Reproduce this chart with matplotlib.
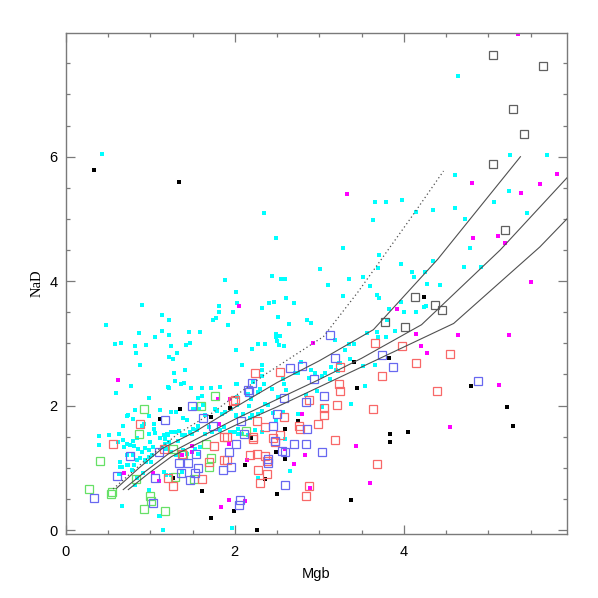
import matplotlib
matplotlib.use("Agg")
import matplotlib.pyplot as plt
from matplotlib.ticker import MultipleLocator

# small filled points (cyan sample)
cyan = [
    (0.88, 2.66), (1.22, 2.78), (1.27, 2.75), (1.28, 2.53), (1.41, 2.58), (1.29, 2.40), (1.36, 2.34),
    (0.77, 2.32), (0.60, 2.21), (1.22, 2.29), (1.48, 2.28), (1.61, 2.28), (1.72, 2.29), (0.99, 2.12),
    (1.57, 2.13), (1.61, 2.16), (1.50, 1.95), (1.54, 1.95), (1.58, 1.95), (0.82, 1.93), (0.73, 1.83),
    (0.79, 1.78), (0.98, 1.83), (1.12, 1.93), (1.25, 1.89), (1.30, 1.90), (1.39, 1.80), (1.43, 1.77),
    (1.65, 1.85), (1.79, 1.91), (1.85, 1.86), (1.89, 1.90), (1.96, 1.95), (2.03, 2.01), (2.01, 1.85),
    (0.68, 1.67), (0.90, 1.68), (0.93, 1.70), (1.04, 1.63), (0.99, 1.55), (1.06, 1.56), (1.16, 1.52),
    (1.20, 1.55), (1.25, 1.58), (1.34, 1.59), (1.38, 1.52), (1.47, 1.58), (1.50, 1.62), (1.56, 1.67),
    (0.39, 1.51), (0.39, 1.37), (0.51, 1.53), (0.62, 1.41), (0.69, 1.34), (0.81, 1.35), (0.80, 1.43),
    (0.84, 1.48), (0.94, 1.32), (1.00, 1.42), (1.03, 1.34), (1.11, 1.48), (1.17, 1.39), (1.22, 1.41),
    (1.33, 1.43), (1.02, 1.20), (1.01, 1.10), (0.95, 1.10), (0.88, 1.16), (0.79, 1.21), (0.73, 1.20),
    (0.64, 1.10), (0.64, 1.02), (0.63, 0.90), (0.73, 1.05), (0.81, 1.04), (0.84, 0.83), (0.82, 0.73),
    (0.91, 0.91), (1.19, 0.89), (1.56, 1.22), (0.67, 0.39), (1.11, 0.23), (1.15, 0.00), (1.99, 1.57),
    (1.97, 0.04), (1.21, 2.30), (1.40, 2.36), (2.03, 2.35), (1.83, 2.30), (1.62, 2.01), (1.77, 1.94),
    (0.74, 1.85), (1.04, 1.71), (1.18, 1.47), (1.21, 1.53), (1.29, 1.58), (1.41, 1.53), (1.49, 1.55),
    (1.55, 1.61), (1.65, 1.55), (1.69, 1.66), (1.73, 1.58), (1.83, 1.61), (1.87, 1.66), (1.94, 1.58),
    (2.00, 1.58), (2.04, 1.63), (2.08, 1.55), (2.16, 1.53), (2.24, 1.61), (2.32, 1.58), (0.68, 1.45),
    (0.72, 1.39), (0.76, 1.37), (0.86, 1.31), (0.90, 1.26), (0.98, 1.28), (1.14, 1.34), (1.19, 1.31),
    (1.25, 1.26), (1.31, 1.20), (1.39, 1.28), (1.43, 1.23), (1.53, 1.31), (1.59, 1.34), (0.66, 1.02),
    (0.74, 1.04), (0.78, 0.96), (0.84, 1.12), (0.94, 1.12), (0.98, 1.18), (1.16, 0.94), (1.25, 0.88),
    (1.37, 0.94), (0.99, 0.64), (1.10, 0.22), (0.63, 1.54), (2.10, 1.87), (2.20, 1.85),
    (1.88, 4.02), (2.01, 3.83), (2.03, 3.65), (1.98, 3.50), (1.81, 3.60), (1.81, 3.51), (1.78, 3.40),
    (1.74, 3.37), (1.92, 3.30), (0.90, 3.62), (1.14, 3.45), (1.22, 3.38), (0.48, 3.30), (0.87, 3.16),
    (1.06, 3.11), (1.14, 3.20), (1.22, 3.14), (1.46, 3.18), (1.59, 3.19), (0.58, 2.99), (0.65, 3.01),
    (0.82, 2.96), (0.95, 2.98), (1.25, 2.96), (1.42, 2.98), (1.47, 3.01), (0.83, 2.85), (1.32, 2.85),
    (2.01, 2.90), (0.43, 6.04), (2.34, 5.10), (2.49, 4.70), (2.44, 4.09), (2.55, 4.03), (2.60, 4.03),
    (2.61, 3.73), (3.66, 5.27), (3.79, 5.28), (3.98, 5.31), (3.63, 4.99), (3.28, 4.54), (3.71, 4.42),
    (3.97, 4.27), (3.69, 4.21), (3.01, 4.20), (3.35, 4.03), (3.52, 4.06), (3.60, 3.92), (3.10, 3.94),
    (3.28, 3.76), (3.68, 3.78), (3.71, 3.73), (2.46, 3.67), (2.41, 3.65), (2.70, 3.65), (2.32, 3.57),
    (2.51, 3.42), (2.86, 3.37), (2.90, 3.33), (2.64, 3.31), (2.49, 3.15), (2.54, 3.12), (2.49, 3.10),
    (2.50, 3.04), (2.52, 2.97), (2.58, 2.95), (2.28, 2.99), (2.36, 2.99), (2.20, 2.91), (3.82, 3.55),
    (3.97, 3.66), (4.00, 3.51), (3.56, 3.16), (3.68, 3.19), (3.70, 3.10), (3.79, 3.11), (3.89, 3.20),
    (3.35, 2.99), (3.41, 2.99), (3.30, 2.89), (3.18, 3.05), (4.64, 7.29), (5.26, 6.03), (5.69, 6.03),
    (4.61, 5.70), (5.24, 5.45), (5.07, 5.27), (5.46, 5.09), (4.72, 5.00), (4.61, 5.17), (4.35, 5.15),
    (4.15, 5.11), (4.78, 4.53), (4.71, 4.23), (4.91, 4.23), (4.34, 4.32), (4.10, 4.15), (4.12, 4.07),
    (4.25, 4.15), (4.27, 3.95), (4.43, 3.94), (4.14, 3.51), (4.24, 3.58), (4.26, 3.60), (3.80, 3.37),
    (3.24, 2.68), (3.22, 2.56), (2.09, 2.66), (2.32, 2.65), (2.32, 2.57), (2.32, 2.48), (2.02, 2.34),
    (2.21, 2.38), (2.30, 2.27), (2.28, 2.22), (2.35, 2.34), (2.44, 2.27), (2.57, 2.42), (2.58, 2.34),
    (2.61, 2.25), (2.71, 2.53), (2.75, 2.52), (2.78, 2.70), (2.90, 2.57), (2.95, 2.52), (2.88, 2.45),
    (3.03, 2.48), (3.07, 2.52), (3.13, 2.43), (3.14, 2.62), (3.20, 2.57), (3.23, 2.68), (3.36, 2.75),
    (3.52, 2.64), (3.66, 2.66), (3.54, 2.32), (3.37, 2.03), (2.97, 2.23), (2.84, 2.17), (2.51, 2.14),
    (2.16, 2.18), (2.19, 2.11), (2.03, 2.14), (2.36, 2.03), (2.39, 2.01), (2.17, 1.99), (2.28, 1.86),
    (2.32, 1.91), (2.45, 1.88), (2.57, 1.90), (2.49, 1.77), (2.18, 1.80), (2.02, 1.83), (2.75, 1.87),
    (3.03, 1.98), (2.04, 1.55), (2.59, 1.46), (2.28, 0.83), (2.65, 0.95),
]

magenta = [
    (0.62, 2.41), (1.80, 2.11), (1.94, 2.11), (1.81, 1.71), (1.49, 1.35), (1.49, 1.26), (1.38, 1.21),
    (1.03, 0.92), (0.69, 0.91), (1.10, 0.78), (1.93, 1.39), (1.93, 0.48), (1.84, 0.37), (2.05, 3.60),
    (3.33, 5.40), (2.92, 3.00), (3.92, 3.55), (2.80, 1.86), (2.60, 1.30), (2.83, 1.21), (2.70, 1.06),
    (2.15, 1.12), (3.44, 1.35), (3.60, 0.76), (2.89, 0.67), (2.12, 0.46), (4.15, 3.15), (4.20, 2.95),
    (4.27, 2.84), (4.64, 3.14), (5.24, 3.13), (5.13, 2.33), (4.55, 1.66), (5.35, 7.97), (4.81, 5.58),
    (5.39, 5.42), (5.61, 5.56), (5.81, 5.73), (4.82, 4.69), (5.11, 4.72), (5.20, 4.62), (5.50, 3.98),
]

black = [
    (0.33, 5.78), (1.34, 5.59), (1.35, 1.94), (1.12, 1.79), (1.72, 1.82), (1.94, 1.96), (1.27, 0.84),
    (1.61, 0.62), (1.72, 0.20), (1.99, 0.30), (3.41, 2.70), (3.83, 2.77), (3.45, 2.28), (2.75, 1.76),
    (2.59, 1.62), (3.84, 1.54), (4.05, 1.57), (3.84, 1.42), (2.19, 1.48), (2.49, 1.26), (2.60, 1.14),
    (2.12, 1.04), (2.36, 0.82), (2.50, 0.58), (3.38, 0.49), (2.26, 0.00), (4.24, 3.74), (4.79, 2.31),
    (5.22, 1.97), (5.29, 1.68),
]

# open squares
green_open = [
    (1.76, 2.15), (0.92, 1.94), (1.60, 1.99), (0.87, 1.54), (0.41, 1.11), (0.83, 0.82), (0.27, 0.66),
    (0.54, 0.58), (0.55, 0.61), (1.00, 0.54), (1.01, 0.46), (0.92, 0.33), (1.17, 0.30), (1.29, 0.85),
    (1.52, 0.82), (1.66, 1.39), (1.72, 1.16), (1.70, 1.01), (1.39, 1.21), (2.13, 1.59), (1.27, 1.30),
]

red_open = [
    (0.88, 1.71), (0.56, 1.39), (1.16, 1.31), (1.69, 1.10), (1.61, 0.82), (1.27, 0.70), (1.21, 0.83),
    (1.87, 1.50), (1.91, 1.50), (1.75, 1.35), (1.87, 1.13), (1.91, 1.13), (1.98, 2.07), (1.38, 1.22),
    (2.24, 2.52), (2.54, 2.54), (3.25, 2.62), (3.23, 2.34), (3.25, 2.24), (3.74, 2.47), (2.88, 2.09),
    (3.05, 1.96), (3.21, 2.01), (3.63, 1.94), (3.06, 1.85), (2.58, 1.81), (2.26, 1.75), (2.36, 1.66),
    (2.76, 1.67), (2.77, 1.62), (2.99, 1.70), (2.54, 1.52), (2.45, 1.48), (2.47, 1.41), (2.22, 1.50),
    (2.22, 1.46), (3.19, 1.45), (2.18, 1.21), (2.26, 1.22), (2.36, 1.19), (2.38, 1.11), (2.28, 0.97),
    (2.38, 0.90), (2.30, 0.76), (3.68, 1.06), (2.88, 0.70), (2.84, 0.55), (2.00, 2.09), (3.66, 3.00),
    (3.98, 2.95), (4.15, 2.69), (4.55, 2.83), (4.39, 2.24),
]

blue_open = [
    (1.49, 1.99), (1.62, 1.80), (1.18, 1.77), (1.74, 1.68), (0.76, 1.19), (0.61, 0.87), (0.33, 0.52),
    (1.05, 0.83), (1.10, 1.26), (1.34, 1.07), (1.45, 1.07), (1.36, 0.92), (1.54, 1.22), (1.57, 0.99),
    (1.47, 0.80), (1.86, 0.96), (1.96, 1.01), (1.93, 1.25), (2.02, 1.39), (1.03, 0.44), (2.05, 0.40),
    (2.06, 0.49), (2.65, 2.61), (2.80, 2.64), (2.94, 2.43), (2.20, 2.37), (2.16, 2.25), (3.19, 2.76),
    (2.58, 2.13), (2.84, 2.06), (3.06, 2.16), (3.87, 2.62), (3.74, 2.81), (2.50, 1.87), (2.07, 1.75),
    (2.45, 1.67), (2.86, 1.62), (2.11, 1.55), (2.47, 1.43), (2.70, 1.38), (2.84, 1.39), (2.56, 1.27),
    (2.60, 1.25), (3.03, 1.26), (2.39, 1.14), (2.39, 1.07), (2.59, 0.73), (3.13, 3.13), (4.88, 2.40),
    (2.17, 2.22), (1.53, 0.91),
]

grey_open = [
    (5.06, 7.64), (5.65, 7.46), (5.29, 6.77), (5.42, 6.36), (5.06, 5.88), (5.20, 4.83), (4.13, 3.75),
    (3.78, 3.34), (4.02, 3.27), (4.37, 3.62), (4.45, 3.54),
]

# model tracks
track1_x = [0.60, 0.86, 1.14, 1.53, 2.00, 2.50, 3.00, 3.64, 4.40, 5.38]
track1_y = [0.67, 0.99, 1.31, 1.58, 1.97, 2.37, 2.72, 3.22, 4.35, 6.00]
track2_x = [0.68, 0.94, 1.21, 1.53, 2.00, 2.50, 3.00, 3.50, 4.21, 5.14, 5.93]
track2_y = [0.65, 0.94, 1.22, 1.45, 1.78, 2.10, 2.42, 2.76, 3.30, 4.50, 5.66]
track3_x = [0.74, 0.98, 1.25, 1.53, 2.00, 2.50, 3.00, 3.50, 4.59, 5.61, 5.93]
track3_y = [0.65, 0.91, 1.18, 1.37, 1.68, 1.98, 2.30, 2.62, 3.32, 4.55, 5.00]
dotted_x = [0.56, 0.94, 1.33, 1.73, 2.05, 2.38, 3.05, 3.46, 4.07, 4.47]
dotted_y = [0.66, 1.12, 1.55, 1.88, 2.20, 2.52, 3.11, 3.83, 4.99, 5.77]


def xs(pts):
    return [p[0] for p in pts]


def ys(pts):
    return [p[1] for p in pts]


fig = plt.figure(figsize=(5.98, 5.98), dpi=100)
ax = fig.add_axes([0.110, 0.107, 0.838, 0.838])

ax.scatter(xs(cyan), ys(cyan), marker='s', s=7, color='#00ffff', linewidths=0, zorder=2)
ax.scatter(xs(magenta), ys(magenta), marker='s', s=7, color='#ff00ff', linewidths=0, zorder=2)
ax.scatter(xs(black), ys(black), marker='s', s=7, color='black', linewidths=0, zorder=2)

for pts, col in [(green_open, '#66e066'), (red_open, '#f86868'),
                 (blue_open, '#6868f0'), (grey_open, '#606060')]:
    ax.plot(xs(pts), ys(pts), linestyle='none', marker='s', markersize=5.5,
            markerfacecolor='none', markeredgecolor=col, markeredgewidth=0.9, zorder=3)

for tx, ty in [(track1_x, track1_y), (track2_x, track2_y), (track3_x, track3_y)]:
    ax.plot(tx, ty, color='#505050', lw=0.8, zorder=4)
ax.plot(dotted_x, dotted_y, color='#505050', lw=0.9, linestyle=(0, (1, 2.2)), zorder=4)

ax.set_xlim(0, 5.93)
ax.set_ylim(-0.064, 7.99)
ax.xaxis.set_major_locator(MultipleLocator(2))
ax.xaxis.set_minor_locator(MultipleLocator(0.5))
ax.yaxis.set_major_locator(MultipleLocator(2))
ax.yaxis.set_minor_locator(MultipleLocator(0.5))

for sp in ax.spines.values():
    sp.set_color('#7a7a7a')
    sp.set_linewidth(1.0)
ax.tick_params(which='both', direction='in', top=True, right=True, color='#7a7a7a', width=0.9)
ax.tick_params(which='major', length=6.5)
ax.tick_params(which='minor', length=3)
ax.tick_params(axis='x', which='major', pad=8)
ax.tick_params(axis='y', which='major', pad=6)
for lab in ax.get_xticklabels() + ax.get_yticklabels():
    lab.set_fontfamily('Liberation Sans')
    lab.set_fontsize(10.5)

ax.set_xlabel('Mgb', fontfamily='Liberation Sans', fontsize=10.5, labelpad=6)
ax.set_ylabel('NaD', fontfamily='Liberation Serif', fontsize=10.5, labelpad=4)

fig.savefig('out.png', dpi=100)
